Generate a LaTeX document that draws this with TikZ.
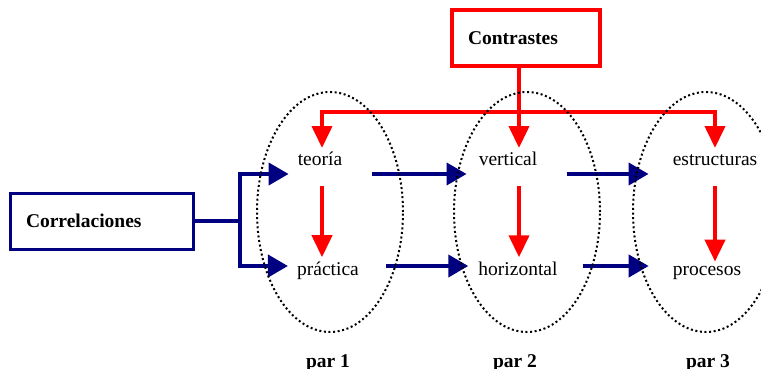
\documentclass[tikz,border=0pt]{standalone}
\usepackage{fontspec}
\setmainfont{Liberation Serif}
\usetikzlibrary{arrows.meta,shapes.geometric,calc}
\definecolor{navyblue}{RGB}{0,0,128}
\definecolor{pured}{RGB}{255,0,0}
\tikzset{
  lbl/.style={font=\fontsize{19.5}{22}\selectfont, inner sep=0pt, anchor=base, text=black},
  parlbl/.style={lbl, font=\fontsize{19.5}{22}\selectfont\bfseries},
  boxbase/.style={font=\fontsize{19.5}{22}\selectfont\bfseries, inner xsep=16pt, align=left, minimum height=56pt, inner ysep=0pt},
  bluebox/.style={boxbase, draw=navyblue, line width=3pt, text width=151pt},
  redbox/.style={boxbase, draw=pured, line width=3.5pt, text width=116pt},
  rarrow/.style={draw=pured, line width=4pt, -{Triangle[length=22pt,width=20pt]}},
  rline/.style={draw=pured, line width=4pt},
  barrow/.style={draw=navyblue, line width=4pt, -{Triangle[length=20pt,width=22pt]}},
  bline/.style={draw=navyblue, line width=4pt},
  pairoval/.style={ellipse, draw=black, line width=2pt, dash pattern=on 2pt off 2.6pt, minimum width=146pt, minimum height=240pt, inner sep=0pt}
}
\begin{document}
\begin{tikzpicture}[x=1pt,y=-1pt]
\useasboundingbox (0,0) rectangle (761,369);
% boxes
\node[bluebox] (c) at (101.5,221) {Correlaciones};
\node[redbox] (k) at (526,38) {Contrastes};
% words
\node[lbl] (teoria) at (320,165) {teoría};
\node[lbl] (practica) at (328,275) {práctica};
\node[lbl] (vertical) at (508,165) {vertical};
\node[lbl] (horizontal) at (518,275) {horizontal};
\node[lbl] (estructuras) at (715,165) {estructuras};
\node[lbl] (procesos) at (707,275) {procesos};
\node[parlbl] (par1) at (328,367) {par 1};
\node[parlbl] (par2) at (515,367) {par 2};
\node[parlbl] (par3) at (708,367) {par 3};
% helper coordinates
\coordinate (t1) at (322,148);
\coordinate (t2) at (519,148);
\coordinate (t3) at (715,148);
\coordinate (bus) at (519,112);
\coordinate (fork) at (240,221);
\coordinate (yb1) at (0,174);
\coordinate (yb2) at (0,266);
% red connectors
\draw[rarrow] (k.south -| t2) -- (t2);
\draw[rarrow] (bus) -| (t1);
\draw[rarrow] (bus) -| (t3);
\draw[rarrow] ([yshift=-21pt]teoria.south -| t1) -- ([yshift=4pt]practica.north -| t1);
\draw[rarrow] ([yshift=-21pt]vertical.south -| t2) -- ([yshift=4pt]horizontal.north -| t2);
\draw[rarrow] ([yshift=-21pt]estructuras.south -| t3) -- ([yshift=4pt]procesos.north -| t3);
% blue connectors
\draw[bline] (c.east) -- (fork);
\draw[barrow] (fork) |- ([xshift=-9pt]teoria.west |- yb1);
\draw[barrow] (fork) |- ([xshift=-9pt]practica.west |- yb2);
\draw[barrow] ([xshift=30pt]teoria.east |- yb1) -- ([xshift=-12pt]vertical.west |- yb1);
\draw[barrow] ([xshift=27pt]practica.east |- yb2) -- ([xshift=-10pt]horizontal.west |- yb2);
\draw[barrow] ([xshift=30pt]vertical.east |- yb1) -- ([xshift=-24pt]estructuras.west |- yb1);
\draw[barrow] ([xshift=25pt]horizontal.east |- yb2) -- ([xshift=-24pt]procesos.west |- yb2);
% pair ovals
\node[pairoval] (e1) at (330,212) {};
\node[pairoval] (e2) at (527,212) {};
\node[pairoval] (e3) at (706,212) {};
\end{tikzpicture}
\end{document}
